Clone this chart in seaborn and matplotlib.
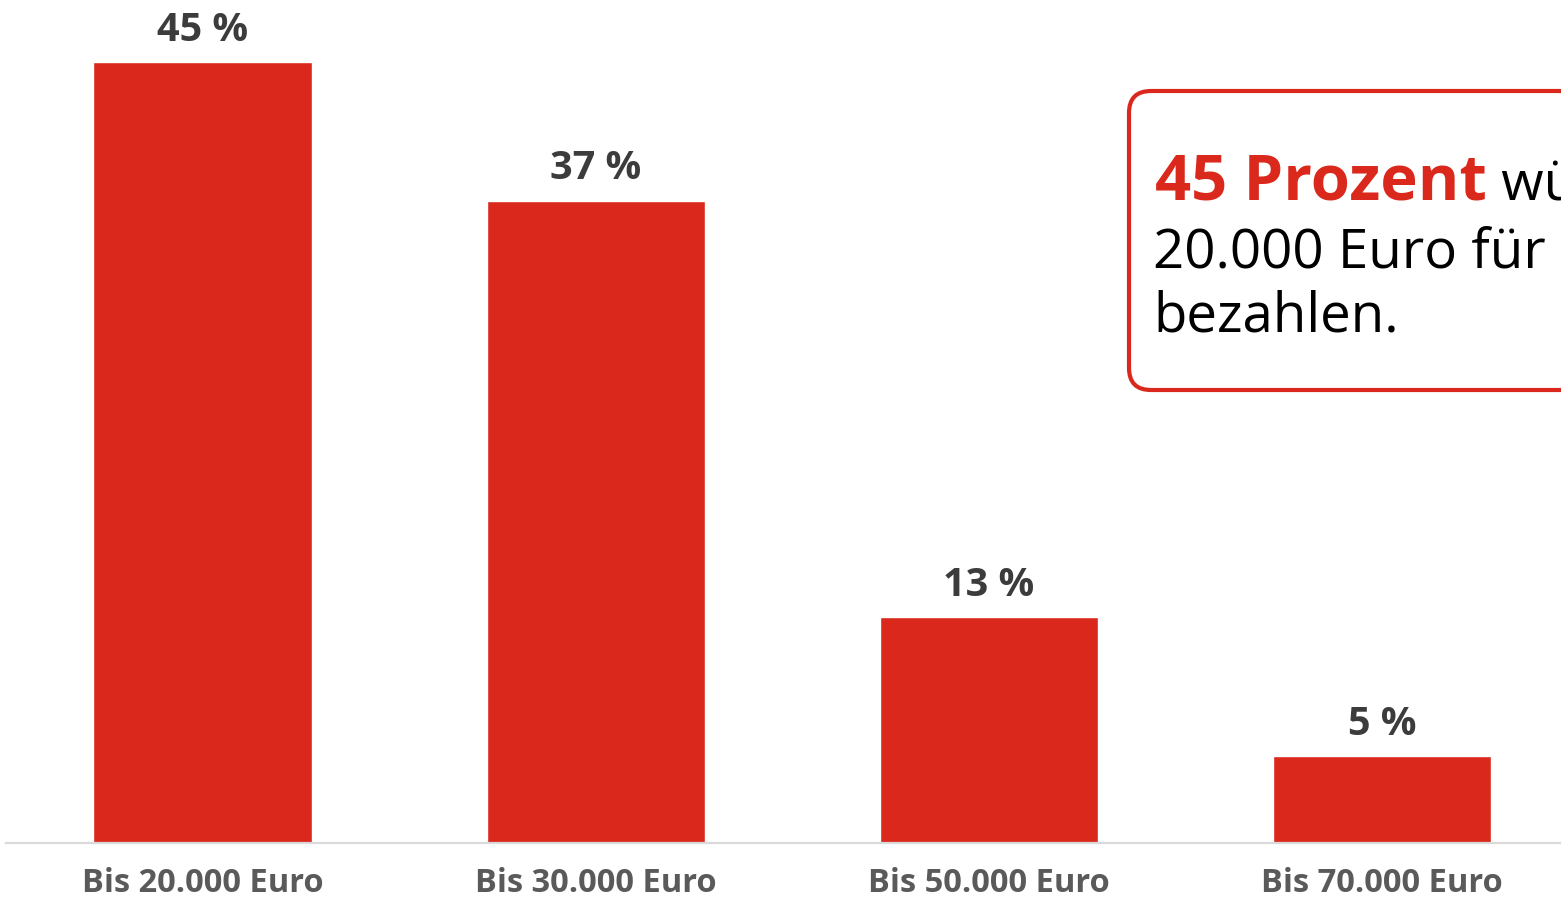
import matplotlib
matplotlib.use("Agg")
import matplotlib.pyplot as plt
import seaborn as sns
import pandas as pd
from matplotlib.patches import FancyBboxPatch

# Data
categories = ["Bis 20.000 Euro", "Bis 30.000 Euro", "Bis 50.000 Euro", "Bis 70.000 Euro"]
shares = [45, 37, 13, 5]
value_labels = [f"{v} %" for v in shares]

callout_bold = "45 Prozent"
callout_rest = " würden maximal"
callout_lines = ["20.000 Euro für", "bezahlen."]

RED = "#DA291C"
DARK = "#3C3C3C"
GREY = "#5A5A5A"

sns.set_theme(style="white")
plt.rcParams["font.family"] = ["Open Sans", "DejaVu Sans"]

df = pd.DataFrame({"kategorie": categories, "anteil": shares})

fig = plt.figure(figsize=(15.61, 9.0), dpi=100)
fig.patch.set_facecolor("white")
W, H = 1561, 900
ax = fig.add_axes([6 / W, 57 / H, (W - 6) / W, 833 / H])

sns.barplot(data=df, x="kategorie", y="anteil", color=RED, saturation=1,
            width=0.555, ax=ax)

ax.set_xlim(-0.5, 3.455)
ax.set_ylim(0, 48)
ax.set_xlabel("")
ax.set_ylabel("")
ax.set_yticks([])
for s in ["top", "right", "left"]:
    ax.spines[s].set_visible(False)
ax.spines["bottom"].set_color("#D9D9D9")
ax.spines["bottom"].set_linewidth(1.6)
ax.tick_params(axis="x", length=0, pad=17.5)
for lbl in ax.get_xticklabels():
    lbl.set_fontsize(23.5)
    lbl.set_fontweight("bold")
    lbl.set_color(GREY)

ax.bar_label(ax.containers[0], labels=value_labels, padding=9,
             fontsize=28.5, fontweight="bold", color=DARK)

# Callout box
box = FancyBboxPatch((11.29, 5.10), 6.0, 2.99,
                     boxstyle="round,pad=0,rounding_size=0.22",
                     transform=fig.dpi_scale_trans, facecolor="white",
                     edgecolor=RED, linewidth=3.0, zorder=5)
fig.add_artist(box)

t1 = fig.text(1155 / W, 1 - 200 / H, callout_bold, fontsize=45.5, fontweight="bold",
              color=RED, ha="left", va="baseline", zorder=6)
fig.canvas.draw()
bb = t1.get_window_extent()
fig.text(bb.x1 / W, 1 - 200 / H, callout_rest, fontsize=39.3, color="black",
         ha="left", va="baseline", zorder=6)
for i, line in enumerate(callout_lines):
    fig.text(1153 / W, 1 - (267 + 64 * i) / H, line, fontsize=39.3, color="black",
             ha="left", va="baseline", zorder=6)

fig.savefig("out.png", dpi=100, facecolor="white")
